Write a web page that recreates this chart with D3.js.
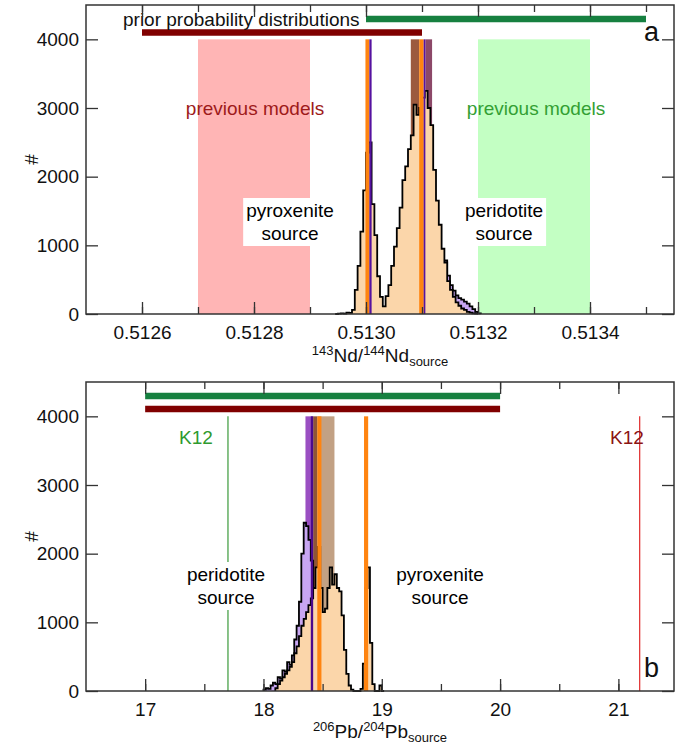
<!DOCTYPE html>
<html>
<head>
<meta charset="utf-8">
<script src="https://cdn.jsdelivr.net/npm/d3@7/dist/d3.min.js"></script>
<style>
  body { margin: 0; background: #fff; }
  text { font-family: "Liberation Sans", Arial, sans-serif; }
</style>
</head>
<body>
<svg id="chart" width="687" height="744"></svg>
<script>
// ---- data ----
var countTicks = [0, 1000, 2000, 3000, 4000];

// panel a : 143Nd/144Nd
var ndTicks = [0.5126, 0.5128, 0.5130, 0.5132, 0.5134];
var ndMinorTicks = [0.5126, 0.5127, 0.5128, 0.5129, 0.5130, 0.5131, 0.5132, 0.5133, 0.5134, 0.5135];
var ndBinWidth = 0.000005;
var ndPeachStart = 0.512945;
var ndPeach = [0, 5, 10, 5, 20, 15, 60, 350, 700, 1200, 1800, 2350, 2500, 1600, 1150, 550, 250, 110,
  260, 420, 700, 980, 1250, 1550, 1950, 2150, 2400, 2600, 3050, 2900, 3000, 3150, 3250, 3000, 2750,
  2100, 1650, 1300, 950, 750, 480, 350, 250, 170, 120, 80, 60, 30, 20, 10, 5];
var ndLavenderStart = 0.51314;
var ndLavender = [780, 560, 420, 340, 270, 230, 210, 180, 150, 110, 70, 30, 10];
var ndPriorRed = [0.5126, 0.5131];
var ndPriorGreen = [0.5130, 0.5135];
var ndPrevPyroxenite = [0.5127, 0.5129];
var ndPrevPeridotite = [0.5132, 0.5134];
var ndBrownBand = [0.51308, 0.513095];
var ndMauveBand = [0.513106, 0.513118];
var ndOrangeLines = [[0.512999, 0.513006], [0.513095, 0.513103]];
var ndPurpleLines = [[0.513006, 0.51301], [0.513103, 0.513106]];

// panel b : 206Pb/204Pb
var pbTicks = [17, 18, 19, 20, 21];
var pbMinorTicks = [17, 17.5, 18, 18.5, 19, 19.5, 20, 20.5, 21];
var pbBinWidth = 0.02;
var pbLavenderStart = 18.0;
var pbLavender = [20, 40, 30, 80, 120, 100, 200, 180, 300, 280, 420, 380, 520, 750, 950, 1300,
  2000, 2450, 2400, 2200, 1900, 1400, 900, 400, 150];
var pbPeachStart = 18.1;
var pbPeach = [40, 100, 150, 200, 250, 300, 350, 420, 550, 650, 800, 950, 1050, 1150, 1250, 1350,
  1500, 1800, 2100, 1500, 1150, 1200, 1500, 1800, 1550, 1700, 1500, 1450, 1100, 600, 250, 80, 20,
  0, 0, 0, 30, 400, 1500, 1800, 700, 100, 0, 0, 80, 0];
var pbPriorRed = [17, 20];
var pbPriorGreen = [17, 20];
var pbPurpleBand = [18.355, 18.42];
var pbDarkBrownBand = [18.42, 18.455];
var pbTanBand = [18.455, 18.6];
var pbOrangeLines = [[18.455, 18.49], [18.85, 18.885]];
var pbPurpleLines = [[18.40, 18.42]];
var pbK12Peridotite = 17.7;
var pbK12Pyroxenite = 21.18;

// ---- drawing ----
var svg = d3.select("#chart");
var left = 86, right = 674;

function histPoints(start, width, counts) {
  var pts = [{ x: start, y: 0 }];
  counts.forEach(function (c, i) {
    pts.push({ x: start + i * width, y: c });
  });
  pts.push({ x: start + counts.length * width, y: 0 });
  return pts;
}

function drawHist(g, x, y, start, width, counts, fill) {
  var pts = histPoints(start, width, counts);
  var area = d3.area().curve(d3.curveStepAfter)
    .x(function (d) { return x(d.x); })
    .y0(y(0))
    .y1(function (d) { return y(d.y); });
  var line = d3.line().curve(d3.curveStepAfter)
    .x(function (d) { return x(d.x); })
    .y(function (d) { return y(d.y); });
  g.append("path").attr("d", area(pts)).attr("fill", fill);
  g.append("path").attr("d", line(pts))
    .attr("fill", "none").attr("stroke", "#000").attr("stroke-width", 1.8);
}

function band(g, x, y, range, fill, opacity) {
  g.append("rect")
    .attr("x", x(range[0]))
    .attr("width", x(range[1]) - x(range[0]))
    .attr("y", y(4000))
    .attr("height", y(0) - y(4000))
    .attr("fill", fill)
    .attr("fill-opacity", opacity || 1);
}

function priorBar(g, x, range, yc, fill) {
  g.append("rect")
    .attr("x", x(range[0]))
    .attr("width", x(range[1]) - x(range[0]))
    .attr("y", yc - 3.25)
    .attr("height", 6.5)
    .attr("fill", fill);
}

function boxedLabel(g, cx, baselines, lines) {
  var lg = g.append("g");
  lines.forEach(function (t, i) {
    lg.append("text").attr("x", cx).attr("y", baselines[i])
      .attr("text-anchor", "middle").attr("font-size", 19).attr("fill", "#000").text(t);
  });
  var bb = lg.node().getBBox();
  lg.insert("rect", "text")
    .attr("x", bb.x - 3).attr("y", bb.y - 2)
    .attr("width", bb.width + 6).attr("height", bb.height + 4)
    .attr("fill", "#fff");
}

function drawAxes(g, x, y, top, bottom, majors, minors, fmt) {
  function style(sel) {
    sel.select(".domain").remove();
    sel.selectAll(".tick line").attr("stroke", "#333").attr("stroke-width", 1.3);
    sel.selectAll(".tick text").attr("font-size", 19).attr("fill", "#111")
      .attr("font-family", '"Liberation Sans", Arial, sans-serif');
  }
  g.append("g").attr("transform", "translate(0," + bottom + ")")
    .call(d3.axisBottom(x).tickValues(minors).tickSize(-7).tickFormat(""))
    .call(style);
  g.append("g").attr("transform", "translate(0," + bottom + ")")
    .call(d3.axisBottom(x).tickValues(majors).tickSize(-12).tickPadding(12).tickFormat(fmt))
    .call(style);
  g.append("g").attr("transform", "translate(0," + top + ")")
    .call(d3.axisTop(x).tickValues(minors).tickSize(-7).tickFormat(""))
    .call(style);
  g.append("g").attr("transform", "translate(0," + top + ")")
    .call(d3.axisTop(x).tickValues(majors).tickSize(-12).tickFormat(""))
    .call(style);
  g.append("g").attr("transform", "translate(" + left + ",0)")
    .call(d3.axisLeft(y).tickValues(countTicks).tickSize(-12).tickPadding(7).tickFormat(d3.format("d")))
    .call(style);
  g.append("g").attr("transform", "translate(" + right + ",0)")
    .call(d3.axisRight(y).tickValues(countTicks).tickSize(-12).tickFormat(""))
    .call(style);
  g.append("rect")
    .attr("x", left).attr("y", top)
    .attr("width", right - left).attr("height", bottom - top)
    .attr("fill", "none").attr("stroke", "#333").attr("stroke-width", 1.5);
  g.append("text")
    .attr("transform", "translate(31," + (top + bottom) / 2 + ") rotate(-90)")
    .attr("text-anchor", "middle").attr("dy", "0.35em")
    .attr("font-size", 19).attr("fill", "#111").text("#");
}

function axisTitle(g, cx, baseline, a, b, el) {
  var t = g.append("text").attr("x", cx).attr("y", baseline)
    .attr("text-anchor", "middle").attr("font-size", 19).attr("fill", "#111");
  t.append("tspan").attr("font-size", 13).attr("dy", -7).text(a);
  t.append("tspan").attr("dy", 7).text(el + "/");
  t.append("tspan").attr("font-size", 13).attr("dy", -7).text(b);
  t.append("tspan").attr("dy", 7).text(el);
  t.append("tspan").attr("font-size", 13).attr("dy", 4).text("source");
}

// ---------- panel a ----------
(function () {
  var top = 5, bottom = 314;
  var x = d3.scaleLinear().domain([0.5125, 0.51355]).range([left, right]);
  var y = d3.scaleLinear().domain([0, 4500]).range([bottom, top]);
  var g = svg.append("g");

  band(g, x, y, ndPrevPyroxenite, "#ffb5b5");
  band(g, x, y, ndPrevPeridotite, "#c3ffc3");
  band(g, x, y, ndBrownBand, "#9c5a3e");
  band(g, x, y, ndMauveBand, "#8c4868");

  drawHist(g, x, y, ndLavenderStart, ndBinWidth, ndLavender, "#c8a6f2");
  drawHist(g, x, y, ndPeachStart, ndBinWidth, ndPeach, "#fbd6aa");

  ndOrangeLines.forEach(function (r) { band(g, x, y, r, "#ff8410"); });
  ndPurpleLines.forEach(function (r) { band(g, x, y, r, "#5512a0"); });

  g.append("text").attr("x", 255).attr("y", 115).attr("text-anchor", "middle")
    .attr("font-size", 19).attr("fill", "#9e1a1a").text("previous models");
  g.append("text").attr("x", 536).attr("y", 115).attr("text-anchor", "middle")
    .attr("font-size", 19).attr("fill", "#33a033").text("previous models");

  boxedLabel(g, 290, [217, 240], ["pyroxenite", "source"]);
  boxedLabel(g, 504, [217, 240], ["peridotite", "source"]);

  priorBar(g, x, ndPriorGreen, 19, "#168040");
  priorBar(g, x, ndPriorRed, 32.5, "#800000");
  g.append("text").attr("x", 123).attr("y", 26).attr("font-size", 19).attr("fill", "#111")
    .text("prior probability distributions");

  drawAxes(g, x, y, top, bottom, ndTicks, ndMinorTicks, d3.format(".4f"));
  g.append("text").attr("x", 659).attr("y", 41).attr("text-anchor", "end")
    .attr("font-size", 27).attr("fill", "#111").text("a");
  axisTitle(g, 380, 362, "143", "144", "Nd");
})();

// ---------- panel b ----------
(function () {
  var top = 382, bottom = 691;
  var x = d3.scaleLinear().domain([16.5, 21.47]).range([left, right]);
  var y = d3.scaleLinear().domain([0, 4500]).range([bottom, top]);
  var g = svg.append("g");

  band(g, x, y, pbPurpleBand, "#9a4fc2");
  band(g, x, y, pbDarkBrownBand, "#8e5536");
  band(g, x, y, pbTanBand, "#c2a184");

  drawHist(g, x, y, pbLavenderStart, pbBinWidth, pbLavender, "#c8a6f2");
  drawHist(g, x, y, pbPeachStart, pbBinWidth, pbPeach, "#fbd6aa");

  pbOrangeLines.forEach(function (r) { band(g, x, y, r, "#ff8410"); });
  pbPurpleLines.forEach(function (r) { band(g, x, y, r, "#4b0a8c"); });

  g.append("line").attr("x1", x(pbK12Peridotite)).attr("x2", x(pbK12Peridotite))
    .attr("y1", y(4000)).attr("y2", y(0)).attr("stroke", "#3a9a3a").attr("stroke-width", 1.2);
  g.append("line").attr("x1", x(pbK12Pyroxenite)).attr("x2", x(pbK12Pyroxenite))
    .attr("y1", y(4000)).attr("y2", y(0)).attr("stroke", "#e02828").attr("stroke-width", 1.2);
  g.append("text").attr("x", 196).attr("y", 444).attr("text-anchor", "middle")
    .attr("font-size", 19).attr("fill", "#2f9a2f").text("K12");
  g.append("text").attr("x", 627).attr("y", 444).attr("text-anchor", "middle")
    .attr("font-size", 19).attr("fill", "#8b1414").text("K12");

  boxedLabel(g, 226, [581, 604], ["peridotite", "source"]);
  boxedLabel(g, 440, [581, 604], ["pyroxenite", "source"]);

  priorBar(g, x, pbPriorGreen, 396, "#168040");
  priorBar(g, x, pbPriorRed, 409, "#800000");

  drawAxes(g, x, y, top, bottom, pbTicks, pbMinorTicks, d3.format("d"));
  g.append("text").attr("x", 659).attr("y", 677).attr("text-anchor", "end")
    .attr("font-size", 27).attr("fill", "#111").text("b");
  axisTitle(g, 380, 738, "206", "204", "Pb");
})();
</script>
</body>
</html>
